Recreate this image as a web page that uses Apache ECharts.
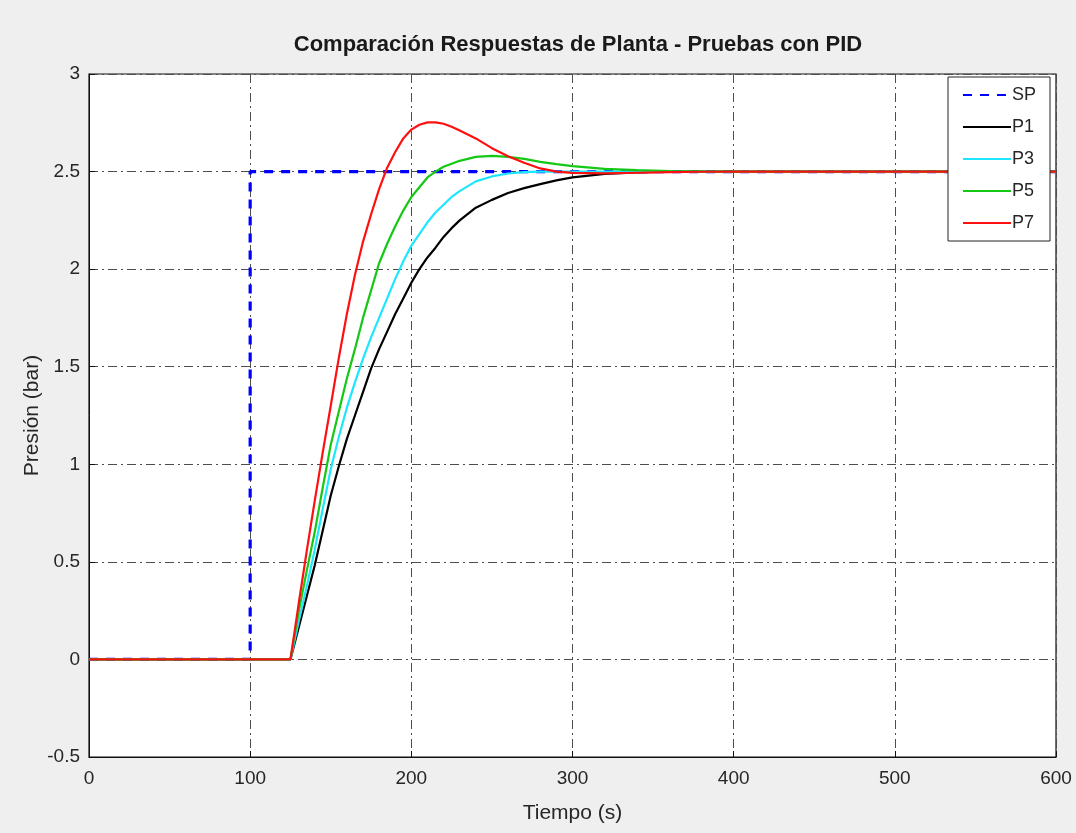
<!DOCTYPE html>
<html>
<head>
<meta charset="utf-8">
<script src="https://cdn.jsdelivr.net/npm/echarts@6/dist/echarts.min.js"></script>
<style>
  html, body { margin: 0; padding: 0; background: #efefef; }
  #chart { width: 1076px; height: 833px; }
</style>
</head>
<body>
<div id="chart"></div>
<script>
// Time samples (s) shared by the plant responses
const time = [0, 100, 125, 130, 135, 140, 145, 150, 155, 160, 165, 170, 175, 180, 185, 190, 195, 200, 205, 210, 215, 220, 225, 230, 240, 250, 260, 270, 280, 290, 300, 320, 340, 360, 380, 400, 450, 500, 550, 600];

// Plant pressure responses (bar)
const p1 = [0, 0, 0, 0.16, 0.32, 0.48, 0.66, 0.84, 0.99, 1.13, 1.25, 1.37, 1.49, 1.59, 1.68, 1.77, 1.85, 1.93, 2.00, 2.06, 2.11, 2.165, 2.21, 2.25, 2.315, 2.355, 2.39, 2.415, 2.436, 2.455, 2.47, 2.488, 2.496, 2.499, 2.5, 2.5, 2.5, 2.5, 2.5, 2.5];
const p3 = [0, 0, 0, 0.19, 0.37, 0.56, 0.77, 0.975, 1.14, 1.29, 1.42, 1.54, 1.65, 1.75, 1.85, 1.95, 2.04, 2.12, 2.18, 2.24, 2.29, 2.33, 2.37, 2.40, 2.45, 2.475, 2.49, 2.497, 2.5, 2.5, 2.5, 2.5, 2.5, 2.5, 2.5, 2.5, 2.5, 2.5, 2.5, 2.5];
const p5 = [0, 0, 0, 0.24, 0.45, 0.65, 0.88, 1.10, 1.27, 1.44, 1.59, 1.75, 1.89, 2.03, 2.13, 2.22, 2.30, 2.37, 2.42, 2.47, 2.50, 2.525, 2.54, 2.555, 2.575, 2.58, 2.575, 2.565, 2.55, 2.538, 2.528, 2.514, 2.507, 2.503, 2.501, 2.5, 2.5, 2.5, 2.5, 2.5];
const p7 = [0, 0, 0, 0.28, 0.55, 0.81, 1.06, 1.30, 1.545, 1.77, 1.97, 2.14, 2.28, 2.41, 2.52, 2.60, 2.67, 2.715, 2.74, 2.752, 2.752, 2.745, 2.73, 2.71, 2.67, 2.62, 2.578, 2.545, 2.516, 2.50, 2.493, 2.491, 2.494, 2.497, 2.499, 2.5, 2.5, 2.5, 2.5, 2.5];

// Set point step
const spTime = [0, 100, 100, 600];
const spValue = [0, 0, 2.5, 2.5];

// Axis ticks
const xTicks = [0, 100, 200, 300, 400, 500, 600];
const yTicks = [-0.5, 0, 0.5, 1, 1.5, 2, 2.5, 3];

const pairs = (xs, ys) => xs.map((x, i) => [x, ys[i]]);

const gridDash = [9, 4, 2, 4];
const textColor = '#262626';
const fontFamily = '"Liberation Sans", Arial, sans-serif';

const chart = echarts.init(document.getElementById('chart'));

const lineCommon = { type: 'line', symbol: 'none', showSymbol: false };

chart.setOption({
  backgroundColor: '#efefef',
  animation: false,
  textStyle: { fontFamily: fontFamily },
  title: {
    text: 'Comparación Respuestas de Planta - Pruebas con PID',
    left: 573,
    top: 29,
    textAlign: 'center',
    textStyle: { fontSize: 22, fontWeight: 'bold', color: '#1a1a1a', fontFamily: fontFamily }
  },
  grid: {
    left: 89, right: 20, top: 74, bottom: 76,
    show: true,
    backgroundColor: '#ffffff',
    borderColor: '#111111',
    borderWidth: 1.2
  },
  legend: {
    orient: 'vertical',
    left: 948,
    top: 77,
    padding: [9, 14, 9, 14],
    itemGap: 14,
    itemWidth: 48,
    itemHeight: 14,
    backgroundColor: '#ffffff',
    borderColor: '#222222',
    borderWidth: 1,
    borderRadius: 0,
    itemStyle: { opacity: 0 },
    textStyle: { fontSize: 18, color: textColor, padding: [0, 0, 0, -4] },
    data: ['SP', 'P1', 'P3', 'P5', 'P7']
  },
  xAxis: {
    type: 'value',
    min: xTicks[0],
    max: xTicks[xTicks.length - 1],
    interval: 100,
    name: 'Tiempo (s)',
    nameLocation: 'middle',
    nameGap: 46,
    nameMoveOverlap: false,
    nameTextStyle: { fontSize: 21, color: textColor },
    axisLine: { show: true, onZero: false, lineStyle: { color: '#111111' } },
    axisTick: { show: true, inside: true, length: 6, lineStyle: { color: '#111111' } },
    axisLabel: { fontSize: 19, color: textColor, margin: 12 },
    splitLine: { show: true, lineStyle: { color: '#4d4d4d', width: 1, type: gridDash } }
  },
  yAxis: {
    type: 'value',
    min: yTicks[0],
    max: yTicks[yTicks.length - 1],
    interval: 0.5,
    name: 'Presión (bar)',
    nameLocation: 'middle',
    nameGap: 46,
    nameMoveOverlap: false,
    nameTextStyle: { fontSize: 21, color: textColor },
    axisLine: { show: true, onZero: false, lineStyle: { color: '#111111' } },
    axisTick: { show: true, inside: true, length: 6, lineStyle: { color: '#111111' } },
    axisLabel: { fontSize: 19, color: textColor, margin: 9 },
    splitLine: { show: true, lineStyle: { color: '#4d4d4d', width: 1, type: gridDash } }
  },
  series: [
    {
      name: 'SP', type: 'line', symbol: 'none', showSymbol: false, data: pairs(spTime, spValue),
      color: '#0000ff',
      lineStyle: { color: '#0000ff', width: 3.2, type: [9, 8], cap: 'butt' }
    },
    Object.assign({
      name: 'P1', data: pairs(time, p1), color: '#000000',
      lineStyle: { color: '#000000', width: 2.2 }
    }, lineCommon),
    Object.assign({
      name: 'P3', data: pairs(time, p3), color: '#1ee6ff',
      lineStyle: { color: '#1ee6ff', width: 2.2 }
    }, lineCommon),
    Object.assign({
      name: 'P5', data: pairs(time, p5), color: '#14c814',
      lineStyle: { color: '#14c814', width: 2.2 }
    }, lineCommon),
    Object.assign({
      name: 'P7', data: pairs(time, p7), color: '#ff1010',
      lineStyle: { color: '#ff1010', width: 2.2 }
    }, lineCommon)
  ]
});
</script>
</body>
</html>
